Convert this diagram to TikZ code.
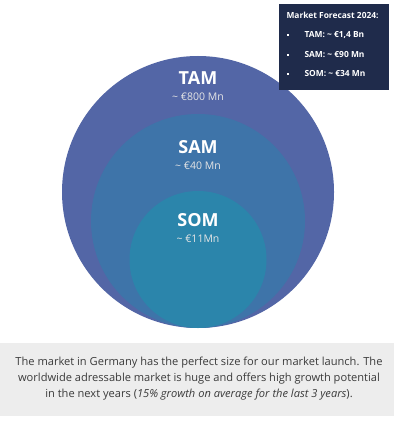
\documentclass[tikz,border=0pt]{standalone}
\usepackage{fontspec}
\setmainfont{Open Sans}
\definecolor{tamblue}{HTML}{5366A6}
\definecolor{samblue}{HTML}{3E74A9}
\definecolor{somblue}{HTML}{2B85AB}
\definecolor{boxnavy}{HTML}{1F2B4B}
\definecolor{notegray}{HTML}{EDEDED}
\definecolor{notetext}{HTML}{3A3A3A}
\tikzset{
  market/.style={circle, inner sep=0pt},
  title/.style={text=white, font=\fontsize{18}{20}\selectfont\bfseries},
  value/.style={text=white!90!black, font=\fontsize{10.5}{12}\selectfont},
  fcast/.style={text=white, anchor=west, font=\fontsize{8.4}{10}\selectfont\bfseries},
  bullet/.style={fill=white, inner sep=0pt, minimum size=2.2pt}
}
\begin{document}
\begin{tikzpicture}[x=1pt,y=-1pt]
\useasboundingbox (0,0) rectangle (394,430);
\fill[white] (0,0) rectangle (394,430);

\node[market, fill=tamblue, minimum size=272pt] (tam) at (198,192) {};
\node[market, fill=samblue, minimum size=214pt] (sam) at (198,221) {};
\node[market, fill=somblue, minimum size=137pt] (som) at (198,259.5) {};

\node[title] (tamlabel) at (198,78) {TAM};
\node[value] (tamvalue) at (198,97) {\char"007E\ €800 Mn};
\node[title] (samlabel) at (198,147) {SAM};
\node[value] (samvalue) at (198,166) {\char"007E\ €40 Mn};
\node[title] (somlabel) at (198,220) {SOM};
\node[value] (somvalue) at (198,239) {\char"007E\ €11Mn};

\node[fill=boxnavy, minimum width=110pt, minimum height=86pt, anchor=north west] (box) at (279,4) {};
\node[fcast] (head) at (283,15) {Market Forecast 2024:};
\node[bullet] (b1) at (288,35) {};
\node[bullet] (b2) at (288,55) {};
\node[bullet] (b3) at (288,74) {};
\node[fcast] (f1) at (301,35) {TAM: \char"007E\ €1,4 Bn};
\node[fcast] (f2) at (301,55) {SAM: \char"007E\ €90 Mn};
\node[fcast] (f3) at (301,74) {SOM: \char"007E\ €34 Mn};

\node[fill=notegray, minimum width=394pt, minimum height=73pt, anchor=north west] (note) at (0,343) {};
\node[text=notetext, align=center, font=\fontsize{11.1}{16}\selectfont] (notetext) at (199,379)
  {The market in Germany has the perfect size for our market launch. The\\
   worldwide adressable market is huge and offers high growth potential\\
   in the next years (\textit{15\% growth on average for the last 3 years}).};
\end{tikzpicture}
\end{document}
